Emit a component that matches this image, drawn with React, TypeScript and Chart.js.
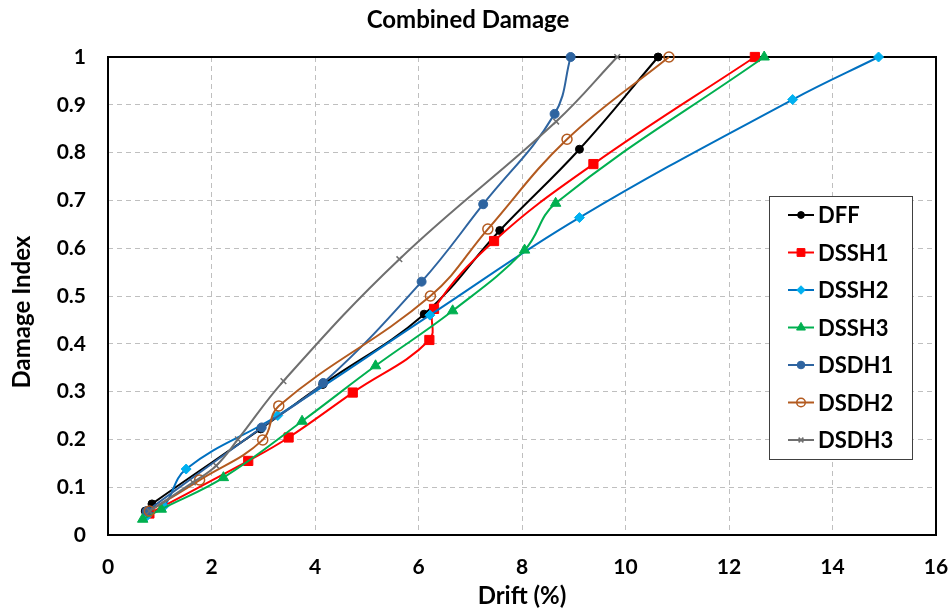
import React, { useEffect, useRef } from 'react';
import { Chart, registerables } from 'chart.js';
import { drawPoint } from 'chart.js/helpers';

Chart.register(...registerables);

// ---- data ----
const xTicks = [0, 2, 4, 6, 8, 10, 12, 14, 16];
const xTickLabels = ['0', '2', '4', '6', '8', '10', '12', '14', '16'];
const yTicks = [0, 0.1, 0.2, 0.3, 0.4, 0.5, 0.6, 0.7, 0.8, 0.9, 1];
const yTickLabels = ['0', '0.1', '0.2', '0.3', '0.4', '0.5', '0.6', '0.7', '0.8', '0.9', '1'];

const seriesNames = ['DFF', 'DSSH1', 'DSSH2', 'DSSH3', 'DSDH1', 'DSDH2', 'DSDH3'];

const dffX = [0.72, 0.85, 2.95, 4.15, 6.11, 7.57, 9.11, 10.63];
const dffY = [0.05, 0.065, 0.222, 0.315, 0.462, 0.637, 0.807, 1.0];

const dssh1X = [0.8, 2.71, 3.49, 4.73, 6.21, 6.3, 7.46, 9.38, 12.5];
const dssh1Y = [0.045, 0.155, 0.204, 0.298, 0.408, 0.473, 0.615, 0.776, 1.0];

const dssh2X = [0.75, 1.08, 1.51, 3.28, 6.22, 9.11, 13.23, 14.89];
const dssh2Y = [0.04, 0.06, 0.138, 0.25, 0.46, 0.664, 0.911, 1.0];

const dssh3X = [0.67, 1.03, 2.23, 3.75, 5.17, 6.66, 8.05, 8.65, 12.68];
const dssh3Y = [0.033, 0.054, 0.12, 0.238, 0.354, 0.469, 0.596, 0.694, 1.0];

const dsdh1X = [0.75, 2.97, 4.16, 6.06, 7.25, 8.63, 8.94];
const dsdh1Y = [0.05, 0.225, 0.318, 0.53, 0.692, 0.881, 1.0];

const dsdh2X = [0.8, 1.77, 2.99, 3.3, 6.23, 7.34, 8.87, 10.84];
const dsdh2Y = [0.05, 0.115, 0.199, 0.27, 0.5, 0.64, 0.828, 1.0];

const dsdh3X = [0.8, 1.64, 2.09, 2.51, 3.39, 5.63, 8.66, 9.84];
const dsdh3Y = [0.05, 0.11, 0.145, 0.2, 0.322, 0.577, 0.865, 1.0];

const seriesX = [dffX, dssh1X, dssh2X, dssh3X, dsdh1X, dsdh2X, dsdh3X];
const seriesY = [dffY, dssh1Y, dssh2Y, dssh3Y, dsdh1Y, dsdh2Y, dsdh3Y];

// ---- styles ----
const FONT = "Lato, 'Open Sans', 'Noto Sans', sans-serif";
const styles = [
  { line: '#000000', fill: '#000000', stroke: '#000000', shape: 'circle', r: 4, bw: 1 },
  { line: '#FF0000', fill: '#FF0000', stroke: '#FF0000', shape: 'rect', r: 6.5, bw: 1 },
  { line: '#0070C0', fill: '#00B0F0', stroke: '#00B0F0', shape: 'rectRot', r: 5, bw: 1 },
  { line: '#00B050', fill: '#00B050', stroke: '#00B050', shape: 'triangle', r: 6, bw: 1 },
  { line: '#2E64A0', fill: '#2E64A0', stroke: '#2E64A0', shape: 'circle', r: 4.5, bw: 1 },
  { line: '#B35A1F', fill: 'rgba(255,255,255,0)', stroke: '#B35A1F', shape: 'circle', r: 5, bw: 1.5 },
  { line: '#6F6F6F', fill: '#6F6F6F', stroke: '#6F6F6F', shape: 'crossRot', r: 4, bw: 1.5 },
];

const frameAndLegend = {
  id: 'frameAndLegend',
  beforeDatasetsDraw(chart: any) {
    const { ctx, chartArea } = chart;
    ctx.save();
    ctx.strokeStyle = '#000000';
    ctx.lineWidth = 2;
    ctx.strokeRect(chartArea.left, chartArea.top, chartArea.right - chartArea.left, chartArea.bottom - chartArea.top);
    ctx.restore();
  },
  afterDraw(chart: any) {
    const { ctx } = chart;
    ctx.save();
    // y axis title
    ctx.fillStyle = '#000000';
    ctx.font = `bold 24px ${FONT}`;
    ctx.textAlign = 'center';
    ctx.textBaseline = 'middle';
    ctx.translate(22, 312);
    ctx.rotate(-Math.PI / 2);
    ctx.fillText('Damage Index', 0, 0);
    ctx.restore();

    // legend box
    ctx.save();
    const bx = 769.5, by = 196.5, bwid = 143, bh = 263;
    ctx.fillStyle = '#ffffff';
    ctx.fillRect(bx, by, bwid, bh);
    ctx.strokeStyle = '#404040';
    ctx.lineWidth = 1;
    ctx.strokeRect(bx, by, bwid, bh);
    seriesNames.forEach((name, i) => {
      const s = styles[i];
      const y = 215 + i * 37.5;
      ctx.strokeStyle = s.line;
      ctx.lineWidth = 2;
      ctx.beginPath();
      ctx.moveTo(788, y);
      ctx.lineTo(814, y);
      ctx.stroke();
      ctx.fillStyle = s.fill;
      ctx.strokeStyle = s.stroke;
      ctx.lineWidth = s.bw;
      drawPoint(ctx, { pointStyle: s.shape, radius: s.r * 0.85, borderWidth: s.bw, rotation: 0 } as any, 801, y);
      ctx.fillStyle = '#000000';
      ctx.font = `bold 22px ${FONT}`;
      ctx.textAlign = 'left';
      ctx.textBaseline = 'middle';
      ctx.fillText(name, 818, y + 1);
    });
    ctx.restore();
  },
};

export default function App() {
  const ref = useRef<HTMLCanvasElement>(null);
  useEffect(() => {
    if (!ref.current) return;
    const datasets = seriesNames.map((name, i) => {
      const s = styles[i];
      return {
        label: name,
        data: seriesX[i].map((x, j) => ({ x, y: seriesY[i][j] })),
        borderColor: s.line,
        backgroundColor: s.fill,
        borderWidth: 2,
        pointStyle: s.shape,
        pointRadius: s.r,
        pointBackgroundColor: s.fill,
        pointBorderColor: s.stroke,
        pointBorderWidth: s.bw,
        tension: 0.4,
        fill: false,
        clip: false as any,
        order: seriesNames.length - 1 - i,
      };
    });
    const chart = new Chart(ref.current, {
      type: 'line',
      data: { datasets },
      plugins: [frameAndLegend],
      options: {
        responsive: false,
        animation: false,
        events: [],
        layout: { padding: { top: 0, left: 0, right: 13, bottom: 0 } },
        plugins: {
          legend: { display: false },
          tooltip: { enabled: false },
          title: {
            display: true,
            text: 'Combined Damage',
            color: '#000000',
            font: { family: FONT, size: 24, weight: 'bold' },
            padding: { top: 6, bottom: 22.2 },
          },
        },
        scales: {
          x: {
            type: 'linear',
            min: 0,
            max: 16,
            afterBuildTicks: (scale: any) => {
              scale.ticks = xTicks.map((v) => ({ value: v }));
            },
            afterFit: (scale: any) => {
              scale.height = 76;
              scale.paddingLeft = 0;
              scale.paddingRight = 0;
            },
            ticks: {
              color: '#000000',
              font: { family: FONT, size: 21, weight: 'bold' },
              padding: 20,
              maxRotation: 0,
              callback: (_v: any, i: number) => xTickLabels[i],
            },
            grid: { color: '#BFBFBF', lineWidth: 1, drawTicks: false },
            border: { display: false, dash: [5, 4] },
            title: {
              display: true,
              text: 'Drift (%)',
              color: '#000000',
              font: { family: FONT, size: 24, weight: 'bold' },
              padding: { top: 0, bottom: 0 },
            },
          },
          y: {
            type: 'linear',
            min: 0,
            max: 1,
            afterBuildTicks: (scale: any) => {
              scale.ticks = yTicks.map((v) => ({ value: v }));
            },
            afterFit: (scale: any) => {
              scale.width = 108;
              scale.paddingTop = 0;
              scale.paddingBottom = 0;
            },
            ticks: {
              color: '#000000',
              font: { family: FONT, size: 21, weight: 'bold' },
              padding: 22,
              callback: (_v: any, i: number) => yTickLabels[i],
            },
            grid: { color: '#BFBFBF', lineWidth: 1, drawTicks: false },
            border: { display: false, dash: [5, 4] },
            title: { display: false },
          },
        },
      } as any,
    });
    return () => chart.destroy();
  }, []);
  return (
    <div style={{ position: 'fixed', left: 0, top: 0, width: 949, height: 611, background: '#ffffff' }}>
      <canvas ref={ref} width={949} height={611} style={{ width: 949, height: 611, display: 'block' }} />
    </div>
  );
}
